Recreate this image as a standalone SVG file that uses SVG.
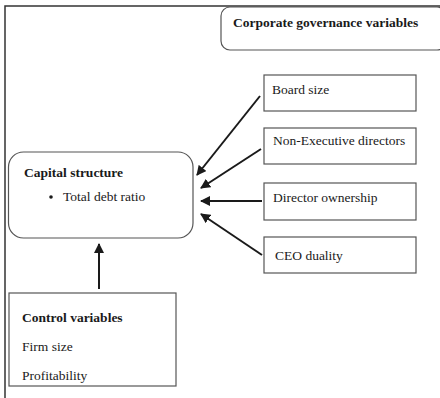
<svg xmlns="http://www.w3.org/2000/svg" width="440" height="398" viewBox="0 0 440 398">
<defs>
<style>
.t{font-family:"Liberation Serif","Times New Roman",serif;font-size:13.5px;fill:#1a1a1a}
.b{font-weight:bold}
.box{fill:#fff;stroke:#555;stroke-width:1.2}
.c{stroke:#1a1a1a;stroke-width:2;fill:none;marker-end:url(#ah)}
</style>
<marker id="ah" viewBox="0 0 10 10" refX="9" refY="5" markerWidth="5" markerHeight="5" orient="auto" markerUnits="strokeWidth">
<path d="M0,0 L10,5 L0,10 z" fill="#1a1a1a"/>
</marker>
</defs>
<rect width="440" height="398" fill="#fff"/>
<path d="M5,398 V6 H440" fill="none" stroke="#333" stroke-width="1.5"/>
<g id="cg">
<rect class="box" x="221" y="7" width="225" height="43" rx="9"/>
<text class="t b" x="233" y="27">Corporate governance variables</text>
</g>
<g id="board">
<rect class="box" x="264" y="75" width="152" height="36"/>
<text class="t" x="272" y="94">Board size</text>
</g>
<g id="nonexec">
<rect class="box" x="264" y="128" width="152" height="36"/>
<text class="t" x="273" y="145">Non-Executive directors</text>
</g>
<g id="director">
<rect class="box" x="264" y="183" width="152" height="37"/>
<text class="t" x="273" y="202">Director ownership</text>
</g>
<g id="ceo">
<rect class="box" x="264" y="237" width="152" height="36"/>
<text class="t" x="275" y="260">CEO duality</text>
</g>
<g id="capital">
<rect class="box" x="8.5" y="152" width="184.5" height="86" rx="15"/>
<text class="t b" x="24" y="177">Capital structure</text>
<circle cx="51" cy="197" r="1.8" fill="#1a1a1a"/>
<text class="t" x="63" y="201">Total debt ratio</text>
</g>
<g id="control">
<rect class="box" x="9" y="293" width="167" height="93"/>
<text class="t b" x="22" y="322">Control variables</text>
<text class="t" x="22" y="351">Firm size</text>
<text class="t" x="22" y="380">Profitability</text>
</g>
<g id="connectors">
<line class="c" x1="260" y1="96" x2="197" y2="175"/>
<line class="c" x1="261" y1="149" x2="201" y2="188"/>
<line class="c" x1="262" y1="201" x2="201" y2="201"/>
<line class="c" x1="262" y1="255" x2="201" y2="214"/>
<line class="c" x1="99" y1="289" x2="99" y2="244"/>
</g>
</svg>
